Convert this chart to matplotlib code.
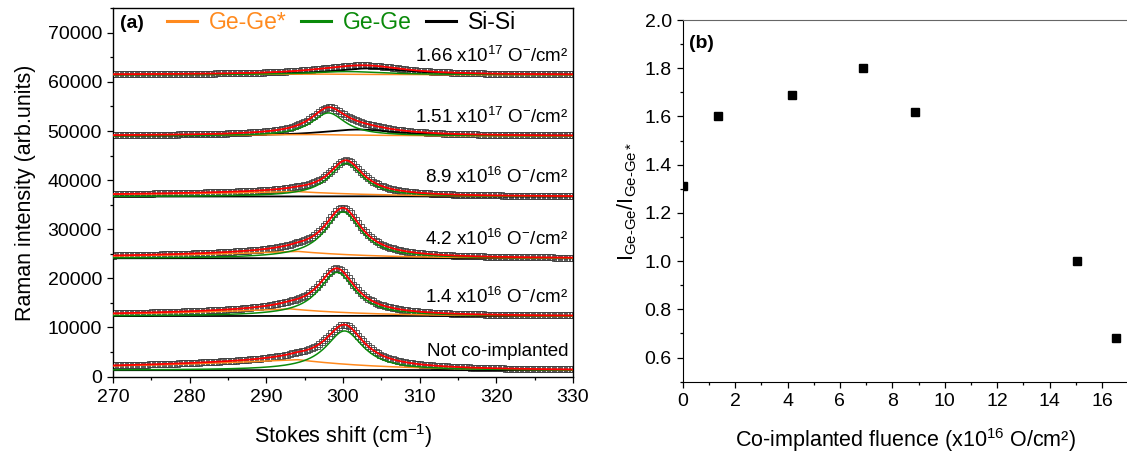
import numpy as np
import matplotlib
matplotlib.use("Agg")
import matplotlib.pyplot as plt
from matplotlib.lines import Line2D
from matplotlib.ticker import MultipleLocator

plt.rcParams['font.family'] = ['Liberation Sans', 'DejaVu Sans']
plt.rcParams['mathtext.fontset'] = 'custom'
plt.rcParams['mathtext.rm'] = 'Liberation Sans'
plt.rcParams['mathtext.it'] = 'Liberation Sans:italic'
plt.rcParams['mathtext.bf'] = 'Liberation Sans:bold'

# ---- (a) Raman spectra, fitted components (bottom to top) ----
sample_labels = ['Not co-implanted',
                 r'1.4 x10$^{16}$ O$^{-}$/cm²',
                 r'4.2 x10$^{16}$ O$^{-}$/cm²',
                 r'8.9 x10$^{16}$ O$^{-}$/cm²',
                 r'1.51 x10$^{17}$ O$^{-}$/cm²',
                 r'1.66 x10$^{17}$ O$^{-}$/cm²']
baseline = [1280, 12310, 24080, 36650, 49000, 61460]
gege_center = [300.2, 299.2, 300.0, 300.4, 298.1, 300.5]
gege_height = [8000, 8900, 9450, 6760, 4690, 650]
gege_hwhm = [3.0, 2.9, 2.9, 2.7, 2.7, 6.0]
gegestar_center = [294.0, 293.0, 294.0, 294.0, 296.0, 296.0]
gegestar_height = [2170, 1480, 1420, 1020, 300, 150]
gegestar_wleft = [27, 20, 22, 30, 20, 20]
gegestar_wright = [11, 10, 10, 11, 10, 10]
sisi_center = [303.0, 303.0, 303.0, 303.0, 302.0, 303.5]
sisi_height = [60, 60, 60, 80, 1300, 1300]
sisi_hwhm = [6.0, 6.0, 6.0, 6.0, 6.0, 6.0]

# ---- (b) intensity ratio vs co-implanted fluence ----
fluence = [0.0, 1.36, 4.16, 6.87, 8.88, 15.04, 16.54]
ratio = [1.31, 1.60, 1.69, 1.80, 1.62, 1.00, 0.68]

C_ORANGE = '#FF8A1E'
C_GREEN = '#0A8A0A'
C_RED = '#FF0000'


def lorentz(x, x0, h, g):
    return h / (1.0 + ((x - x0) / g) ** 2)


def asym_exp(x, x0, h, wl, wr):
    return np.where(x < x0, h * np.exp(-(x0 - x) / wl), h * np.exp(-(x - x0) / wr))


fig = plt.figure(figsize=(11.27, 4.53), dpi=100)
axA = fig.add_axes([0.1003, 0.1667, 0.4081, 0.815])
axB = fig.add_axes([0.6058, 0.1574, 0.3952, 0.7984])

x = np.linspace(270, 330, 600)
xd = np.arange(270, 330.01, 0.32)

for i in range(len(baseline)):
    b = baseline[i]

    def comps(xx):
        gg = lorentz(xx, gege_center[i], gege_height[i], gege_hwhm[i])
        gs = asym_exp(xx, gegestar_center[i], gegestar_height[i],
                      gegestar_wleft[i], gegestar_wright[i])
        ss = lorentz(xx, sisi_center[i], sisi_height[i], sisi_hwhm[i])
        return gg, gs, ss
    gg, gs, ss = comps(x)
    dg, ds, dss = comps(xd)
    axA.plot(xd, b + dg + ds + dss, linestyle='none', marker='s', markersize=4.0,
             markerfacecolor='none', markeredgecolor='#404040', markeredgewidth=0.6,
             zorder=1)
    axA.plot(x, b + ss, color='black', lw=1.3, zorder=2)
    axA.plot(x, b + gs, color=C_ORANGE, lw=1.1, zorder=3)
    axA.plot(x, b + gg, color=C_GREEN, lw=1.1, zorder=4)
    axA.plot(x, b + gg + gs + ss, color=C_RED, lw=1.3, zorder=5)
    axA.text(329.4, b + 3900, sample_labels[i], ha='right', va='center',
             fontsize=13.5, zorder=6)

axA.set_xlim(270, 330)
axA.set_ylim(-200, 75000)
axA.xaxis.set_major_locator(MultipleLocator(10))
axA.xaxis.set_minor_locator(MultipleLocator(5))
axA.yaxis.set_minor_locator(MultipleLocator(5000))
axA.set_yticks(np.arange(0, 70001, 10000))
axA.tick_params(which='both', direction='out', labelsize=14, top=False, right=False)
axA.tick_params(which='major', length=4.5, width=0.9)
axA.tick_params(which='minor', length=2.5, width=0.9)
axA.set_xlabel(r'Stokes shift (cm$^{-1}$)', fontsize=15.5, labelpad=12)
axA.set_ylabel('Raman intensity (arb.units)', fontsize=15.5, labelpad=8)
for s in axA.spines.values():
    s.set_linewidth(1.0)

handles = [Line2D([], [], color=C_ORANGE, lw=2.2),
           Line2D([], [], color=C_GREEN, lw=2.2),
           Line2D([], [], color='black', lw=2.2)]
axA.legend(handles, ['Ge-Ge*', 'Ge-Ge', 'Si-Si'], loc='upper left',
           bbox_to_anchor=(0.112, 1.0), ncol=3, frameon=False, fontsize=16.5,
           handlelength=1.3, handletextpad=0.55, columnspacing=0.6,
           labelcolor='linecolor', borderpad=0.1, borderaxespad=0)
axA.text(0.015, 0.96, '(a)', transform=axA.transAxes, ha='left', va='center',
         fontsize=14, fontweight='bold')

axB.plot(fluence, ratio, linestyle='none', marker='s', markersize=5.5,
         color='black', clip_on=True)
axB.set_xlim(0, 17)
axB.set_ylim(0.5, 2.0)
axB.xaxis.set_major_locator(MultipleLocator(2))
axB.xaxis.set_minor_locator(MultipleLocator(1))
axB.set_yticks(np.arange(0.6, 2.01, 0.2))
axB.yaxis.set_minor_locator(MultipleLocator(0.1))
axB.tick_params(which='both', direction='out', labelsize=14, top=False, right=False)
axB.tick_params(which='major', length=4.5, width=0.9)
axB.tick_params(which='minor', length=2.5, width=0.9)
axB.spines['right'].set_visible(False)
axB.spines['top'].set_color('#666666')
axB.set_xlabel(r'Co-implanted fluence (x10$^{16}$ O/cm²)', fontsize=15.5, labelpad=12)
axB.set_ylabel(r'I$_{\mathrm{Ge‐Ge}}$/I$_{\mathrm{Ge‐Ge*}}$', fontsize=15.5, labelpad=4)
axB.text(0.014, 0.936, '(b)', transform=axB.transAxes, ha='left', va='center',
         fontsize=14, fontweight='bold')

fig.savefig('out.png', dpi=100)
